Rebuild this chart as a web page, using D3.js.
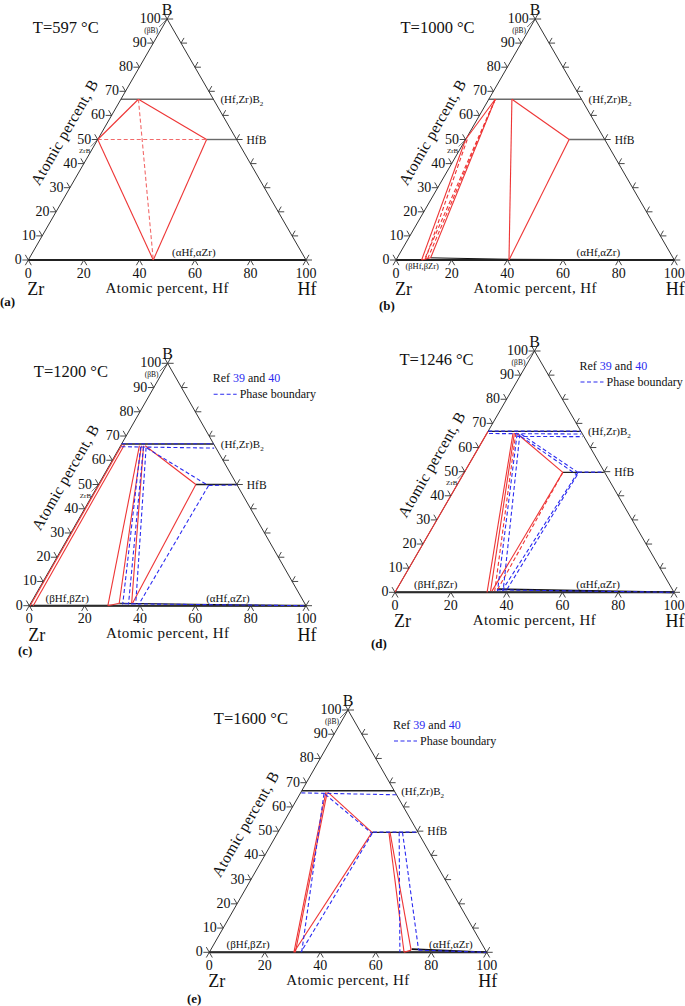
<!DOCTYPE html>
<html><head><meta charset="utf-8">
<script src="https://cdn.jsdelivr.net/npm/d3@7/dist/d3.min.js"></script>
<style>
body{margin:0;background:#fff}
svg{display:block}
text{font-family:"Liberation Serif","Times New Roman",serif;fill:#111}
</style>
</head><body>
<svg id="chart" width="685" height="1006"></svg>
<script>
// ---------- DATA (ternary coordinates: [Hf at.%, B at.%]) ----------
const temperatures = ["597", "1000", "1200", "1246", "1600"];
const panelLetters = ["(a)", "(b)", "(c)", "(d)", "(e)"];
const leftTickValues = [0, 10, 20, 30, 40, 50, 60, 70, 80, 90, 100];
const rightTickValues = [0, 10, 20, 30, 40, 50, 60, 70, 80, 90, 100];
const bottomTickValues = [0, 20, 40, 60, 80, 100];
const legendTexts = ["Ref ", "39", " and ", "40", "Phase boundary"];

// (a) 597 C
const aPhaseLines = [[[0, 66.7], [33.3, 66.7]], [[39.2, 50], [50, 50]]];
const aRedSolid = [[[6.3, 66.7], [0, 50]], [[6.3, 66.7], [39.2, 50]], [[0, 50], [45, 0]], [[39.2, 50], [45, 0]]];
const aRedDash = [[[6.3, 66.7], [45, 0]], [[0, 50], [39.2, 50]]];
const aBlueDash = [];
const aBlackThin = [];

// (b) 1000 C
const bPhaseLines = [[[0, 66.7], [33.3, 66.7]], [[37.2, 50], [50, 50]]];
const bRedSolid = [[[2.3, 66.7], [0, 50]], [[0, 50], [9.2, 0]], [[2.3, 66.7], [12, 0.9]], [[9.2, 0], [12, 0.9]],
  [[8.3, 66.7], [40.6, 0]], [[8.3, 66.7], [37.2, 50]], [[37.2, 50], [40.6, 0]]];
const bRedDash = [[[2.3, 66.7], [10.1, 0.3]], [[2.3, 66.7], [11.1, 0.6]], [[0.6, 50], [10.4, 0.4]]];
const bBlueDash = [];
const bBlackThin = [[[12, 0.9], [40.6, 0.3]], [[40.6, 0.3], [100, 0]]];

// (c) 1200 C
const cPhaseLines = [[[0, 66.7], [33.3, 66.7]], [[35.2, 50], [50, 50]]];
const cRedSolid = [[[0.3, 66.5], [0.3, 0]], [[1.2, 66.4], [1.4, 0]],
  [[6.8, 66], [28.4, 0]], [[7.5, 66], [32, 1]], [[8.3, 66], [36.5, 1]],
  [[8.9, 66], [35.2, 50]], [[35.2, 50], [36.8, 1]], [[28.4, 0], [32, 1]]];
const cRedDash = [];
const cBlueDash = [[[0, 66.8], [33.2, 66.8]], [[0.5, 65.6], [34.3, 65]],
  [[7.5, 65.5], [33.5, 0.5]], [[8.5, 65.5], [35.6, 0.5]], [[9.6, 65.2], [38.2, 0.5]],
  [[10, 65], [40, 49.5]], [[40, 49.5], [39.3, 0.5]], [[40, 49.6], [50, 49.8]], [[34, 0.8], [100, 0]]];
const cBlackThin = [[[32, 1], [100, 0]]];

// (d) 1246 C
const dPhaseLines = [[[0, 66.7], [33.3, 66.7]], [[35.3, 49.7], [50, 49.7]]];
const dRedSolid = [[[0, 0], [0, 66.7]], [[9.3, 66], [33, 0]], [[9.8, 66], [34, 0.5]],
  [[10.5, 66], [35.3, 49.7]], [[35.3, 49.7], [34.5, 0.5]]];
const dRedDash = [[[10.3, 66], [35.5, 0.5]], [[35.3, 49.7], [36.2, 0.5]]];
const dBlueDash = [[[0, 66.8], [33.2, 66.8]], [[0.8, 65.8], [34, 65.6]], [[11.5, 64.6], [35, 64.5]],
  [[11, 65.5], [36.5, 0.5]], [[12, 65.5], [38.5, 0.5]], [[12.5, 65.5], [40.7, 49.7]],
  [[13, 64.5], [41, 48.6]], [[40.7, 49.7], [38, 0.5]], [[41, 48.6], [39.5, 0.5]],
  [[40.7, 49.8], [50, 49.8]], [[36, 1], [100, 0]]];
const dBlackThin = [[[36, 1.3], [100, 0]]];

// (e) 1600 C
const ePhaseLines = [[[0, 66.7], [33.3, 66.7]], [[33.9, 49.5], [50, 49.5]]];
const eRedSolid = [[[9, 66], [30.5, 0]], [[9.5, 66], [31, 0]], [[9.8, 66], [33.9, 49.5]], [[33.9, 49.5], [30.5, 0]],
  [[40, 49.5], [70.2, 0]], [[40.4, 49.5], [72.3, 0.9]], [[70.2, 0], [72.3, 0.9]]];
const eRedDash = [];
const eBlueDash = [[[0.3, 65.8], [35, 65]], [[8.6, 65.5], [33.3, 0]], [[9.2, 65.2], [34.2, 49]],
  [[34.2, 49], [33, 0]], [[34.2, 49.6], [50, 49.6]], [[43.7, 49.5], [68.7, 0]], [[44.9, 49.5], [75, 0.9]],
  [[75, 0.9], [100, 0]]];
const eBlackThin = [[[72.3, 1.3], [100, 0]]];

const phaseNames = ["(Hf,Zr)B", "HfB", "(\u03b1Hf,\u03b1Zr)", "(\u03b2Hf,\u03b2Zr)", "(\u03b2B)", "ZrB"];

// ---------- LAYOUT ----------
const layout = [
  {x0: 28.3, x1: 306, base: 260, top: 19, alphaHf: 59.6, betaHf: null, betaBelow: false, zrb: true, legend: false, letter: [0, 306]},
  {x0: 396, x1: 674.3, base: 260, top: 19, alphaHf: 72.7, betaHf: 9.4, betaBelow: true, zrb: true, legend: false, letter: [379, 310]},
  {x0: 29.3, x1: 306, base: 605.7, top: 363.3, alphaHf: 71.8, betaHf: 13.7, betaBelow: false, zrb: true, legend: true, letter: [18, 655]},
  {x0: 395, x1: 674, base: 592.3, top: 351, alphaHf: 72.8, betaHf: 14.6, betaBelow: false, zrb: true, legend: true, letter: [371, 648]},
  {x0: 209.3, x1: 486.7, base: 952.3, top: 710, alphaHf: 87.1, betaHf: 14, betaBelow: false, zrb: false, legend: true, letter: [187, 1003]}
];
const panelData = [
  [aPhaseLines, aRedSolid, aRedDash, aBlueDash, aBlackThin],
  [bPhaseLines, bRedSolid, bRedDash, bBlueDash, bBlackThin],
  [cPhaseLines, cRedSolid, cRedDash, cBlueDash, cBlackThin],
  [dPhaseLines, dRedSolid, dRedDash, dBlueDash, dBlackThin],
  [ePhaseLines, eRedSolid, eRedDash, eBlueDash, eBlackThin]
];

const RED = "#ee3535", RED_LIGHT = "#f26a6a", BLUE = "#2b2bf0", EDGE = "#333";
const svg = d3.select("#chart");

layout.forEach((L, i) => {
  const [phase, redS, redD, blueD, blackT] = panelData[i];
  const g = svg.append("g");
  const xs = d3.scaleLinear().domain([0, 100]).range([L.x0, L.x1]);
  const ys = d3.scaleLinear().domain([0, 100]).range([L.base, L.top]);
  const px = d => xs(d[0] + d[1] / 2), py = d => ys(d[1]);
  const line = d3.line().x(px).y(py);

  // phase (compound) lines
  g.selectAll(null).data(phase).join("path").attr("d", line)
    .attr("fill", "none").attr("stroke", i < 2 ? "#6a6a6a" : "#222").attr("stroke-width", 1.4);
  // bottom solid solution line
  g.append("path").attr("d", line([[0, 0], [100, 0]])).attr("stroke", "#111").attr("stroke-width", 2).attr("fill", "none");
  g.selectAll(null).data(blackT).join("path").attr("d", line)
    .attr("fill", "none").attr("stroke", "#111").attr("stroke-width", i >= 3 ? 1.8 : 1);

  // triangle edges
  g.append("path").attr("d", line([[0, 0], [100, 0], [0, 100], [0, 0]]))
    .attr("fill", "none").attr("stroke", EDGE).attr("stroke-width", 1);

  // tie lines
  g.selectAll(null).data(redS).join("path").attr("d", line)
    .attr("fill", "none").attr("stroke", RED).attr("stroke-width", 1.1);
  g.selectAll(null).data(redD).join("path").attr("d", line)
    .attr("fill", "none").attr("stroke", i === 0 ? RED_LIGHT : RED).attr("stroke-width", 1.1).attr("stroke-dasharray", "4,2.5");
  g.selectAll(null).data(blueD).join("path").attr("d", line)
    .attr("fill", "none").attr("stroke", BLUE).attr("stroke-width", 1.1).attr("stroke-dasharray", "4,2.5");

  // ticks
  const tk = g.append("g").attr("stroke", EDGE).attr("stroke-width", 0.9).attr("fill", "none");
  leftTickValues.forEach(v => {
    const x = px([0, v]), y = py([0, v]);
    tk.append("path").attr("d", `M${x - 6},${y}L${x},${y}L${x - 3},${y - 5.2}`);
    g.append("text").attr("x", x - 6.5).attr("y", y + 4).attr("text-anchor", "end")
      .attr("font-size", 14).text(v);
  });
  rightTickValues.forEach(v => {
    const x = px([100 - v, v]), y = py([100 - v, v]);
    tk.append("path").attr("d", `M${x + 6},${y}L${x},${y}L${x + 3},${y - 5.2}`);
  });
  bottomTickValues.forEach(v => {
    const x = px([v, 0]), y = py([v, 0]);
    tk.append("path").attr("d", `M${x - 3},${y + 5.2}L${x},${y}L${x + 3},${y + 5.2}`);
    g.append("text").attr("x", x).attr("y", y + 17.5).attr("text-anchor", "middle")
      .attr("font-size", 14).text(v);
  });

  // corner and axis titles
  const ax = px([0, 100]), ay = py([0, 100]);
  g.append("text").attr("x", ax).attr("y", ay - 4.5).attr("text-anchor", "middle").attr("font-size", 16).text("B");
  g.append("text").attr("x", L.x0 - 1).attr("y", L.base + 35).attr("font-size", 18).text("Zr");
  g.append("text").attr("x", L.x1 + 1).attr("y", L.base + 35).attr("text-anchor", "middle").attr("font-size", 18).text("Hf");
  g.append("text").attr("x", (L.x0 + L.x1) / 2).attr("y", L.base + 32.5).attr("text-anchor", "middle")
    .attr("font-size", 15).attr("letter-spacing", 0.4).text("Atomic percent, Hf");
  const mx = px([0, 46.3]), my = py([0, 46.3]);
  g.append("text").attr("transform", `translate(${mx - 32.5 * 0.866},${my - 32.5 * 0.5}) rotate(-60)`)
    .attr("text-anchor", "middle").attr("dy", "0.35em").attr("font-size", 15.5).attr("letter-spacing", 0.3)
    .text("Atomic percent, B");
  g.append("text").attr("x", L.x0 + 4.5).attr("y", ay + 14).attr("font-size", 16.5).text(`T=${temperatures[i]} \u00b0C`);
  g.append("text").attr("x", L.letter[0]).attr("y", L.letter[1]).attr("font-size", 13).attr("font-weight", "bold").text(panelLetters[i]);

  // phase labels
  const b2x = px([33.3, 66.7]), b2y = py([33.3, 66.7]);
  const b2 = g.append("text").attr("x", b2x + 7).attr("y", b2y + 4).attr("font-size", 11).text(phaseNames[0]);
  b2.append("tspan").attr("font-size", 7).attr("dy", 3).text("2");
  g.append("text").attr("x", px([50, 50]) + 10).attr("y", py([50, 50]) + 4).attr("font-size", 11.5).text(phaseNames[1]);
  g.append("text").attr("x", px([L.alphaHf, 0])).attr("y", L.base - 4).attr("text-anchor", "middle")
    .attr("font-size", 11).text(phaseNames[2]);
  if (L.betaHf !== null) {
    g.append("text").attr("x", px([L.betaHf, 0])).attr("y", L.betaBelow ? L.base + 9 : L.base - 4)
      .attr("text-anchor", "middle").attr("font-size", L.betaBelow ? 8.5 : 11).text(phaseNames[3]);
  }
  g.append("text").attr("x", ax - 16).attr("y", ay + 13.5).attr("text-anchor", "middle").attr("font-size", 7.5).text(phaseNames[4]);
  g.append("path").attr("d", `M${ax - 8},${ay + 8}L${ax},${ay}`).attr("stroke", EDGE).attr("stroke-width", 0.7);
  if (L.zrb) {
    const zx = px([0, 50]), zy = py([0, 50]);
    g.append("text").attr("x", zx - 13).attr("y", zy + 13.5).attr("text-anchor", "middle").attr("font-size", 7).text(phaseNames[5]);
    g.append("path").attr("d", `M${zx - 7},${zy + 7}L${zx},${zy}`).attr("stroke", EDGE).attr("stroke-width", 0.6);
  }

  // legend
  if (L.legend) {
    const t = g.append("text").attr("x", ax + 45).attr("y", ay + 19).attr("font-size", 12);
    legendTexts.slice(0, 4).forEach((s, k) => {
      t.append("tspan").attr("fill", k % 2 ? BLUE : "#111").text(s);
    });
    g.append("path").attr("d", `M${ax + 46},${ay + 31}L${ax + 69},${ay + 31}`)
      .attr("stroke", BLUE).attr("stroke-width", 1.1).attr("stroke-dasharray", "4,2.5");
    g.append("text").attr("x", ax + 72).attr("y", ay + 35).attr("font-size", 12).text(legendTexts[4]);
  }
});
</script>
</body></html>
